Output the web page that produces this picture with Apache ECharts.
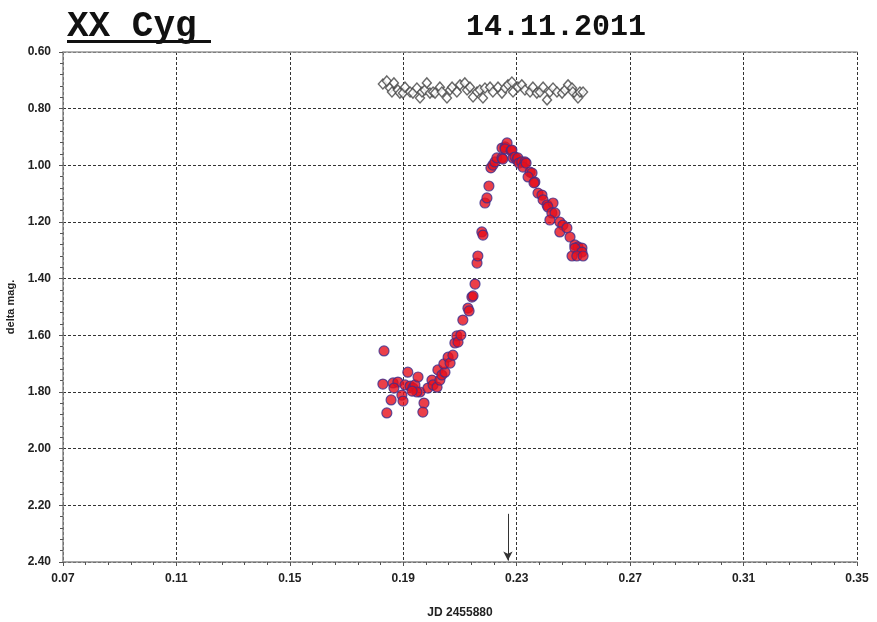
<!DOCTYPE html>
<html><head><meta charset="utf-8">
<script src="https://cdn.jsdelivr.net/npm/echarts@6/dist/echarts.min.js"></script>
<style>html,body{margin:0;padding:0;background:#fff}#c{width:877px;height:622px}</style>
</head><body><div id="c"></div>
<script>
// ---- text ----
const titleStar = 'XX Cyg';
const titleDate = '14.11.2011';
const xAxisName = 'JD 2455880';
const yAxisName = 'delta mag.';

// ---- axes ----
const xMin = 0.07, xMax = 0.35, xStep = 0.04;
const yMin = 0.6, yMax = 2.4, yStep = 0.2;

// ---- variable star (XX Cyg) : JD fraction and delta mag ----
const varX = [0.1832,0.1828,0.1864,0.1881,0.1867,0.1857,0.1842,0.1895,0.1899,0.1916,0.1906,0.1924,0.1934,0.1941,0.1952,0.1959,0.1948,0.1931,0.1973,0.1969,0.1987,0.2001,0.2005,0.2019,0.2029,0.2022,0.2036,0.2047,0.2043,0.2058,0.2065,0.2075,0.2082,0.2089,0.2093,0.2103,0.2110,0.2128,0.2132,0.2142,0.2146,0.2153,0.2160,0.2163,0.2177,0.2181,0.2188,0.2195,0.2202,0.2209,0.2216,0.2223,0.2230,0.2248,0.2251,0.2248,0.2259,0.2266,0.2259,0.2280,0.2283,0.2287,0.2294,0.2301,0.2304,0.2308,0.2318,0.2329,0.2322,0.2333,0.2347,0.2354,0.2340,0.2364,0.2361,0.2375,0.2389,0.2393,0.2407,0.2428,0.2410,0.2424,0.2435,0.2417,0.2452,0.2463,0.2452,0.2477,0.2488,0.2505,0.2516,0.2530,0.2505,0.2530,0.2495,0.2512,0.2534];
const varY = [1.655,1.772,1.768,1.765,1.786,1.828,1.874,1.811,1.832,1.730,1.775,1.779,1.786,1.775,1.747,1.800,1.800,1.797,1.839,1.871,1.786,1.758,1.775,1.783,1.758,1.722,1.740,1.730,1.701,1.677,1.698,1.670,1.627,1.602,1.624,1.599,1.546,1.504,1.514,1.465,1.461,1.419,1.345,1.320,1.235,1.246,1.133,1.115,1.073,1.009,0.999,0.988,0.974,0.974,0.978,0.939,0.935,0.921,0.942,0.949,0.946,0.974,0.971,0.981,0.974,0.992,0.988,0.988,1.006,0.992,1.024,1.027,1.041,1.059,1.062,1.098,1.105,1.122,1.140,1.133,1.147,1.168,1.168,1.193,1.200,1.211,1.235,1.221,1.253,1.281,1.288,1.292,1.292,1.306,1.320,1.320,1.320];

// ---- comparison / check star ----
const cmpX = [0.1828,0.1842,0.1853,0.1860,0.1867,0.1881,0.1888,0.1899,0.1906,0.1924,0.1934,0.1948,0.1959,0.1966,0.1976,0.1983,0.1994,0.2005,0.2012,0.2029,0.2036,0.2054,0.2065,0.2072,0.2089,0.2100,0.2117,0.2125,0.2135,0.2146,0.2160,0.2170,0.2181,0.2188,0.2206,0.2216,0.2234,0.2248,0.2259,0.2269,0.2283,0.2287,0.2304,0.2318,0.2329,0.2347,0.2357,0.2371,0.2382,0.2393,0.2407,0.2417,0.2428,0.2442,0.2460,0.2470,0.2481,0.2495,0.2498,0.2512,0.2516,0.2523,0.2534];
const cmpY = [0.713,0.702,0.727,0.741,0.709,0.734,0.745,0.745,0.724,0.741,0.745,0.727,0.762,0.741,0.734,0.709,0.745,0.741,0.745,0.724,0.741,0.762,0.734,0.724,0.741,0.716,0.709,0.734,0.724,0.759,0.741,0.734,0.762,0.727,0.724,0.741,0.724,0.745,0.727,0.716,0.706,0.741,0.724,0.716,0.734,0.741,0.724,0.745,0.741,0.724,0.769,0.741,0.727,0.741,0.745,0.734,0.716,0.727,0.741,0.752,0.762,0.741,0.741];

// ---- arrow marker (time of maximum) ----
const arrowJD = 0.2269, arrowFrom = 2.23, arrowTo = 2.395;

// x axis is drawn relative to xMin so the ticks fall on 0.07, 0.11, ...
const shift = v => +(v - xMin).toFixed(6);
const varData = varX.map((x, i) => [shift(x), varY[i]]);
const cmpData = cmpX.map((x, i) => [shift(x), cmpY[i]]);

const chart = echarts.init(document.getElementById('c'), null, {renderer: 'canvas'});
const labelFont = {fontFamily: 'Liberation Sans, Arial, sans-serif', fontWeight: 'bold', fontSize: 12, color: '#222'};
const gridLine = {show: true, lineStyle: {color: '#333', type: [3, 2], width: 1}};

chart.setOption({
  backgroundColor: '#fff',
  animation: false,
  grid: {left: 63, right: 20, top: 52, bottom: 60, containLabel: false, outerBoundsMode: 'none'},
  graphic: [
    {type: 'text', left: 67, top: 9, style: {text: titleStar, font: 'bold 36px "Liberation Mono", "Courier New", monospace', fill: '#111'}},
    {type: 'rect', left: 67, top: 40, shape: {width: 144, height: 3}, style: {fill: '#111'}},
    {type: 'text', left: 466, top: 12, style: {text: titleDate, font: 'bold 30px "Liberation Mono", "Courier New", monospace', fill: '#111'}}
  ],
  xAxis: [{
    type: 'value', min: 0, max: shift(xMax), interval: xStep,
    name: xAxisName, nameLocation: 'middle', nameGap: 45,
    nameTextStyle: labelFont,
    axisLine: {show: true, onZero: false, lineStyle: {color: '#888', width: 1.5}},
    axisTick: {show: true, length: 4, lineStyle: {color: '#555'}},
    minorTick: {show: true, splitNumber: 5, length: 3, lineStyle: {color: '#555'}},
    axisLabel: Object.assign({margin: 11, formatter: v => (v + xMin).toFixed(2)}, labelFont),
    splitLine: gridLine
  }, {
    type: 'value', position: 'top', min: 0, max: shift(xMax),
    axisLine: {show: true, lineStyle: {color: '#999', width: 1.5}},
    axisTick: {show: false}, axisLabel: {show: false}, splitLine: {show: false}
  }],
  yAxis: {
    type: 'value', inverse: true, min: yMin, max: yMax, interval: yStep,
    name: yAxisName, nameLocation: 'middle', nameGap: 41, nameRotate: 90,
    nameTextStyle: Object.assign({}, labelFont, {fontSize: 11}),
    axisLine: {show: true, lineStyle: {color: '#888', width: 1.5}},
    axisTick: {show: true, length: 4, lineStyle: {color: '#555'}},
    minorTick: {show: true, splitNumber: 5, length: 3, lineStyle: {color: '#555'}},
    axisLabel: Object.assign({margin: 12, formatter: v => v.toFixed(2)}, labelFont),
    splitLine: gridLine
  },
  series: [
    {
      name: 'check', type: 'scatter', data: cmpData, symbol: 'diamond', symbolSize: [9, 10],
      itemStyle: {color: '#fff', borderColor: '#444', borderWidth: 1.4}, z: 3
    },
    {
      name: 'XX Cyg', type: 'scatter', data: varData, symbol: 'circle', symbolSize: 10,
      itemStyle: {color: '#e60f1c', borderColor: '#3b2f8f', borderWidth: 1.2}, z: 4,
      markLine: {
        silent: true, symbol: ['none', 'arrow'], symbolSize: [7, 9],
        lineStyle: {color: '#333', width: 1, type: 'solid'}, label: {show: false},
        data: [[{coord: [shift(arrowJD), arrowFrom]}, {coord: [shift(arrowJD), arrowTo]}]]
      }
    }
  ]
});
</script></body></html>
